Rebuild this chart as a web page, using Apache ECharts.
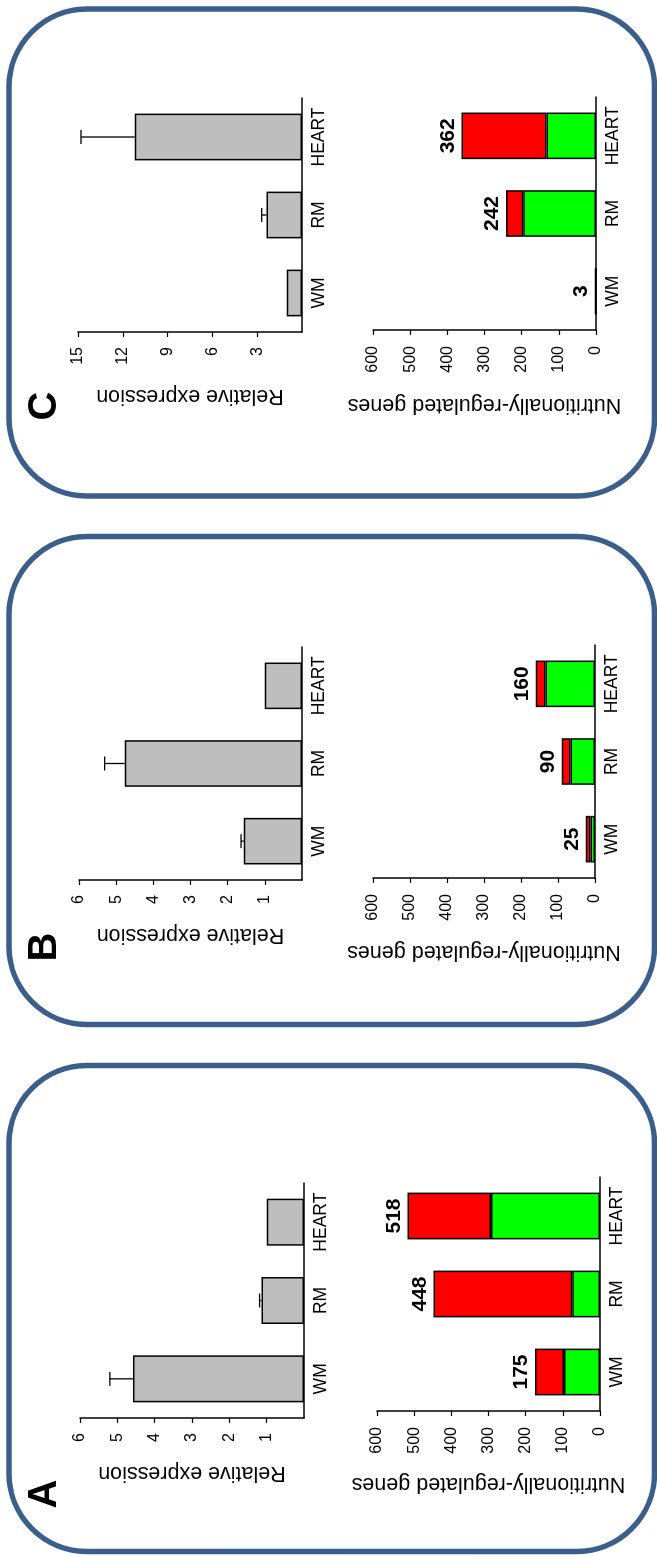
<!DOCTYPE html>
<html>
<head>
<meta charset="utf-8">
<script src="https://cdn.jsdelivr.net/npm/echarts@6/dist/echarts.min.js"></script>
<style>
html, body { margin: 0; padding: 0; overflow: hidden; background: #fff; }
/* the figure is drawn in landscape and turned a quarter turn to the left */
#main {
  position: absolute; left: 0; top: 0;
  width: 1557px; height: 657px;
  transform-origin: 0 0;
  transform: translate(0, 1557px) rotate(-90deg);
}
</style>
</head>
<body>
<div id="main"></div>
<script>
var tissues = ['WM', 'RM', 'HEART'];
var panels = ['A', 'B', 'C'];

// relative expression: bar value and upper end of the error bar
var exprA = [4.58, 1.14, 1.0];
var errA = [5.2, 1.19, null];
var exprB = [1.57, 4.77, 1.0];
var errB = [1.64, 5.31, null];
var exprC = [1.02, 2.37, 11.2];
var errC = [null, 2.7, 14.8];
var exprMax = [6, 6, 15];
var exprStep = [1, 1, 3];

// nutritionally-regulated genes: green part, red part, printed total
var greenA = [97, 75, 293];
var redA = [78, 373, 225];
var totalA = [175, 448, 518];
var greenB = [12, 66, 134];
var redB = [13, 24, 26];
var totalB = [25, 90, 160];
var greenC = [0, 196, 133];
var redC = [3, 46, 229];
var totalC = [3, 242, 362];
var genesMax = 600;
var genesStep = 100;

var expr = [exprA, exprB, exprC];
var errs = [errA, errB, errC];
var greens = [greenA, greenB, greenC];
var reds = [redA, redB, redC];
var totals = [totalA, totalB, totalC];

var FONT = '"Liberation Sans", Arial, Helvetica, sans-serif';
var frame = '#3c5e8b';

// plot boxes in landscape pixels: expression chart then genes chart for each panel
var grids = [
  {left: 139, top: 80, width: 235, height: 224},
  {left: 146, top: 377, width: 234, height: 223},
  {left: 677, top: 79, width: 233, height: 223},
  {left: 679, top: 373, width: 233, height: 222},
  {left: 1225, top: 78, width: 234, height: 224},
  {left: 1227, top: 373, width: 233, height: 223}
];
var frames = [
  {x: 5.5, w: 486},
  {x: 532.5, w: 488},
  {x: 1061, w: 487}
];
var letterX = [63, 610, 1151];
var exprNameGap = [44, 44, 53];
var genesNameGap = [62, 63, 64];

var chartDom = document.getElementById('main');
var myChart = echarts.init(chartDom);

var xAxes = [], yAxes = [], series = [], graphics = [];

function catAxis(g) {
  return {
    type: 'category', gridIndex: g, data: tissues,
    axisLine: {lineStyle: {color: '#000', width: 1.5}},
    axisTick: {alignWithLabel: true, length: 4, lineStyle: {color: '#000', width: 1.2}},
    axisLabel: {color: '#000', fontSize: 17.5, fontFamily: FONT, margin: 8}
  };
}

function valAxis(g, max, step, name, gap, showMin, labelMargin) {
  return {
    type: 'value', gridIndex: g, min: 0, max: max, interval: step,
    axisLine: {show: true, lineStyle: {color: '#000', width: 1.5}},
    axisTick: {show: true, length: 5, lineStyle: {color: '#000', width: 1.2}},
    splitLine: {show: false},
    axisLabel: {color: '#000', fontSize: 16, fontFamily: FONT, margin: labelMargin, showMinLabel: showMin},
    name: name, nameLocation: 'middle', nameRotate: 90, nameGap: gap,
    nameTextStyle: {color: '#000', fontSize: 21.5, fontFamily: FONT}
  };
}

function errorBars(g, i) {
  var pts = [];
  for (var k = 0; k < tissues.length; k++) {
    if (errs[i][k] != null) pts.push([k, expr[i][k], errs[i][k]]);
  }
  return {
    type: 'custom', xAxisIndex: g, yAxisIndex: g, z: 5,
    data: pts,
    renderItem: function (params, api) {
      var lo = api.coord([api.value(0), api.value(1)]);
      var hi = api.coord([api.value(0), api.value(2)]);
      var st = {stroke: '#000', lineWidth: 1.3};
      return {
        type: 'group',
        children: [
          {type: 'line', shape: {x1: lo[0], y1: lo[1], x2: hi[0], y2: hi[1]}, style: st},
          {type: 'line', shape: {x1: hi[0] - 7, y1: hi[1], x2: hi[0] + 7, y2: hi[1]}, style: st}
        ]
      };
    }
  };
}

for (var i = 0; i < 3; i++) {
  var ge = i * 2, gg = i * 2 + 1;

  xAxes.push(catAxis(ge));
  yAxes.push(valAxis(ge, exprMax[i], exprStep[i], 'Relative expression', exprNameGap[i], false, 15));
  xAxes.push(catAxis(gg));
  yAxes.push(valAxis(gg, genesMax, genesStep, 'Nutritionally-regulated genes', genesNameGap[i], true, 16));

  series.push({
    type: 'bar', xAxisIndex: ge, yAxisIndex: ge, barWidth: '60%',
    data: expr[i],
    itemStyle: {color: '#bebebe', borderColor: '#000', borderWidth: 1.5}
  });
  series.push(errorBars(ge, i));

  series.push({
    type: 'bar', xAxisIndex: gg, yAxisIndex: gg, stack: 'genes' + i, barWidth: '60%',
    data: greens[i],
    itemStyle: {color: '#00ff00', borderColor: '#000', borderWidth: 1.5}
  });
  (function (tot) {
    series.push({
      type: 'bar', xAxisIndex: gg, yAxisIndex: gg, stack: 'genes' + i, barWidth: '60%',
      data: reds[i],
      itemStyle: {color: '#ff0000', borderColor: '#000', borderWidth: 1.5},
      label: {
        show: true, position: 'top', distance: 3,
        color: '#000', fontSize: 21, fontWeight: 'bold', fontFamily: FONT,
        formatter: function (p) { return tot[p.dataIndex]; }
      }
    });
  })(totals[i]);

  graphics.push({
    type: 'rect', z: 10,
    shape: {x: frames[i].x, y: 9, width: frames[i].w, height: 645.5, r: 78},
    style: {fill: 'none', stroke: frame, lineWidth: 5.5}
  });
  graphics.push({
    type: 'text', z: 10, x: letterX[i], y: 45,
    style: {
      text: panels[i], fill: '#000',
      font: 'bold 40px ' + FONT,
      align: 'center', verticalAlign: 'middle',
      textAlign: 'center', textVerticalAlign: 'middle'
    }
  });
}

var option = {
  animation: false,
  backgroundColor: '#fff',
  grid: grids,
  xAxis: xAxes,
  yAxis: yAxes,
  series: series,
  graphic: graphics
};

option && myChart.setOption(option);
</script>
</body>
</html>
